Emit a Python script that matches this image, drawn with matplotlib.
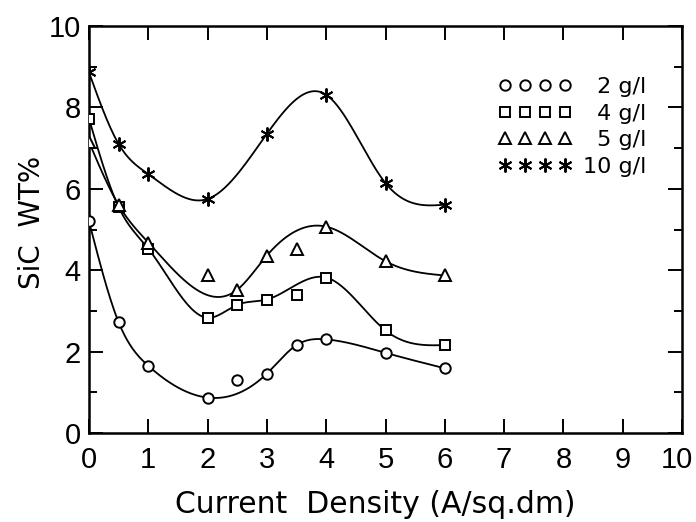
import numpy as np
import matplotlib
matplotlib.use("Agg")
import matplotlib.pyplot as plt
import matplotlib.transforms as mtransforms
from matplotlib.lines import Line2D

# ---- data ----
x_2gl = [0, 0.5, 1, 2, 2.5, 3, 3.5, 4, 5, 6]
y_2gl = [5.2, 2.72, 1.65, 0.87, 1.30, 1.46, 2.16, 2.30, 1.97, 1.59]
fit_2gl = [1, 1, 1, 1, 0, 1, 1, 1, 1, 1]

x_4gl = [0, 0.5, 1, 2, 2.5, 3, 3.5, 4, 5, 6]
y_4gl = [7.72, 5.55, 4.53, 2.83, 3.15, 3.28, 3.38, 3.82, 2.52, 2.16]
fit_4gl = [1, 1, 1, 1, 1, 1, 0, 1, 1, 1]

x_5gl = [0, 0.5, 1, 2, 2.5, 3, 3.5, 4, 5, 6]
y_5gl = [7.15, 5.6, 4.68, 3.88, 3.52, 4.36, 4.51, 5.07, 4.22, 3.87]
fit_5gl = [1, 1, 1, 0, 1, 1, 0, 1, 1, 1]

x_10gl = [0, 0.5, 1, 2, 3, 4, 5, 6]
y_10gl = [8.86, 7.10, 6.36, 5.75, 7.35, 8.31, 6.14, 5.61]
fit_10gl = [1, 1, 1, 1, 1, 1, 1, 1]

labels = ["\u20072 g/l", "\u20074 g/l", "\u20075 g/l", "10 g/l"]
xticks = list(range(0, 11))
yticks_major = [0, 2, 4, 6, 8, 10]
yticks_minor = [1, 3, 5, 7, 9]


def natural_spline(x, y, xs):
    x = np.asarray(x, float)
    y = np.asarray(y, float)
    n = len(x)
    h = np.diff(x)
    A = np.zeros((n, n))
    b = np.zeros(n)
    A[0, 0] = 1
    A[-1, -1] = 1
    for i in range(1, n - 1):
        A[i, i - 1] = h[i - 1]
        A[i, i] = 2 * (h[i - 1] + h[i])
        A[i, i + 1] = h[i]
        b[i] = 6 * ((y[i + 1] - y[i]) / h[i] - (y[i] - y[i - 1]) / h[i - 1])
    M = np.linalg.solve(A, b)
    out = np.empty_like(xs)
    for k, t in enumerate(xs):
        i = min(max(np.searchsorted(x, t) - 1, 0), n - 2)
        a = x[i + 1] - t
        c = t - x[i]
        out[k] = (M[i] * a ** 3 + M[i + 1] * c ** 3) / (6 * h[i]) \
            + (y[i] / h[i] - M[i] * h[i] / 6) * a \
            + (y[i + 1] / h[i] - M[i + 1] * h[i] / 6) * c
    return out


plt.rcParams['font.family'] = ['DejaVu Sans']
tick_font = ['Liberation Sans Narrow', 'Liberation Sans', 'DejaVu Sans']

fig = plt.figure(figsize=(6.96, 5.22), dpi=100)
ax = fig.add_axes([89 / 696, 1 - 433 / 522, (682 - 89) / 696, (433 - 26) / 522])

series = [
    (x_2gl, y_2gl, fit_2gl, 'o', 7.5),
    (x_4gl, y_4gl, fit_4gl, 's', 7.5),
    (x_5gl, y_5gl, fit_5gl, '^', 8),
    (x_10gl, y_10gl, fit_10gl, (6, 2, 0), 10),
]

handles = []
for (xs, ys, fit, mk, ms) in series:
    xf = [a for a, f in zip(xs, fit) if f]
    yf = [a for a, f in zip(ys, fit) if f]
    xx = np.linspace(min(xf), max(xf), 400)
    ax.plot(xx, natural_spline(xf, yf, xx), color='black', lw=1.3, zorder=2)
    ax.plot(xs, ys, linestyle='none', marker=mk, ms=ms, mfc='white',
            mec='black', mew=1.4, zorder=3)
    handles.append(Line2D([], [], linestyle='none', marker=mk, ms=ms,
                          mfc='white', mec='black', mew=1.4))

ax.set_xlim(0, 10)
ax.set_ylim(0, 10)
ax.set_xticks(xticks)
ax.set_yticks(yticks_major)
ax.set_yticks(yticks_minor, minor=True)
ax.tick_params(axis='both', which='major', direction='in', length=10, width=1.4,
               top=True, right=True, pad=6)
ax.tick_params(axis='y', which='minor', direction='in', length=6, width=1.4,
               right=True, left=True)
ax.tick_params(axis='x', which='major', pad=9)
for lab in ax.get_xticklabels() + ax.get_yticklabels():
    lab.set_fontfamily(tick_font)
    lab.set_fontsize(21)
last = ax.get_xticklabels()[-1]
last.set_transform(last.get_transform() +
                   mtransforms.ScaledTranslation(-4 / 72, 0, fig.dpi_scale_trans))
for s in ax.spines.values():
    s.set_linewidth(1.8)

ax.set_xlabel("Current  Density (A/sq.dm)", fontsize=21.5)
ax.xaxis.set_label_coords((375 - 89) / 593, (433 - 519) / 407)
ax.xaxis.label.set_va('bottom')
ax.set_ylabel("SiC  WT%", fontsize=20)
ax.yaxis.set_label_coords((32 - 89) / 593, (433 - 222) / 407)
ax.yaxis.label.set_va('center')

ax.legend(handles, labels, numpoints=4, frameon=False, fontsize=16,
          loc='upper left', bbox_to_anchor=(0.69, 0.875), handlelength=3.3,
          handletextpad=0.5, labelspacing=0.3, borderpad=0, borderaxespad=0)

fig.savefig("out.png", dpi=100)
